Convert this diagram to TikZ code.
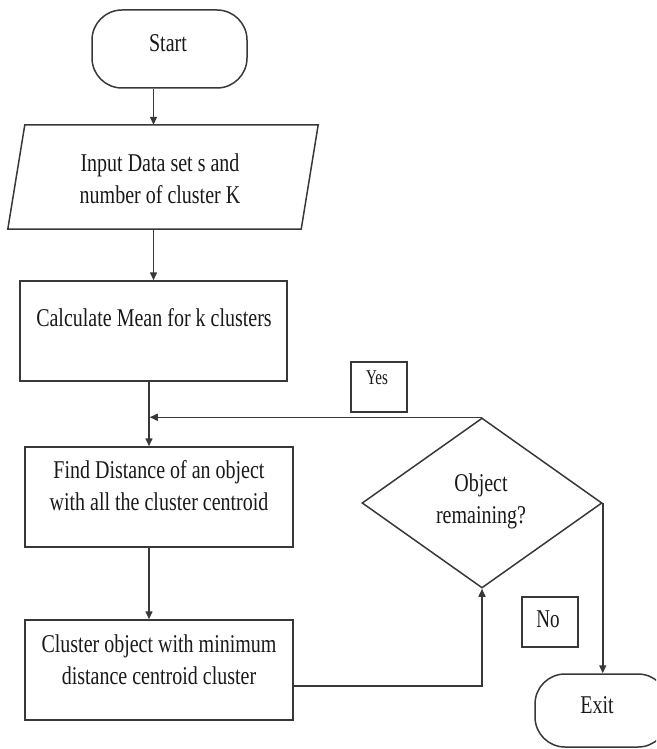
\documentclass[tikz,border=0pt]{standalone}
\usepackage{fontspec}
\setmainfont{Liberation Serif}
\usetikzlibrary{shapes.geometric,arrows.meta,calc}
% tall, slightly narrow lettering, one or more centred lines
\newcommand{\talltext}[2][1.28]{\scalebox{1}[#1]{\begin{tabular}{@{}c@{}}#2\end{tabular}}}
\begin{document}
\begin{tikzpicture}[x=1pt,y=1pt,
  line/.style={draw=black!78, line width=1.5pt},
  arr/.style={line, -{Triangle[length=8pt,width=7pt]}},
  procbox/.style={line, rectangle, inner sep=0pt, minimum width=268pt, minimum height=100pt},
  term/.style={line, rectangle, rounded corners=30pt, inner sep=0pt},
  txt/.style={text=black!90, align=center, inner sep=0pt, font=\fontsize{20}{25}\selectfont},
  tagbox/.style={line, rectangle, inner sep=0pt, minimum width=56pt, minimum height=50pt},
]
\useasboundingbox (0,0) rectangle (656,-749);
\clip (0,0) rectangle (656,-749);

% shapes
\node[term, minimum width=155pt, minimum height=78pt] (start) at (169.5,-49) {};
\node[inner sep=0pt, minimum width=276pt, minimum height=104pt] (input) at (163,-177) {};
\draw[line] (input.north west) -- ($(input.north east)+(17,0)$)
  -- (input.south east) -- ($(input.south west)+(-17,0)$) -- cycle;
\node[procbox, minimum width=267pt] (calc) at (153.5,-331) {};
\node[procbox] (find) at (159,-497) {};
\node[procbox] (clus) at (159,-670) {};
\node[line, diamond, inner sep=0pt, aspect=1.41, minimum width=240pt, minimum height=170pt] (dia) at (482,-503) {};
\node[term, minimum width=133pt, minimum height=73pt] (exit) at (601.5,-710.5) {};
\node[tagbox] (yesbox) at (379,-387) {};
\node[tagbox] (nobox) at (550,-622) {};

% texts
\node[txt] (starttxt) at (168,-45) {\talltext{Start}};
\node[txt] (inputtxt) at (160,-181) {\talltext{Input Data set s and\\number of cluster K}};
\node[txt] (calctxt) at (154,-320) {\talltext{Calculate Mean for k clusters}};
\node[txt] (findtxt) at (159,-488.5) {\talltext{Find Distance of an object\\with all the cluster centroid}};
\node[txt] (clustxt) at (159,-662) {\talltext{Cluster object with minimum\\distance centroid cluster}};
\node[txt] (diatxt) at (481,-501) {\talltext{Object\\remaining?}};
\node[txt, font=\fontsize{15}{15}\selectfont] (yestxt) at (377,-380) {\talltext[1.4]{Yes}};
\node[txt, font=\fontsize{19}{19}\selectfont] (notxt) at (548,-622) {\talltext[1.35]{No}};
\node[txt] (exittxt) at (597,-707) {\talltext{Exit}};

% connectors
\coordinate (spine) at (149,0);
\draw[arr] (start.south -| calc.north) -- (input.north -| calc.north);
\draw[arr] (input.south -| calc.north) -- (calc.north);
\draw[arr] (calc.south -| spine) -- (find.north -| spine);
\draw[arr] (dia.north) -- ($(dia.north -| spine)+(0.75,0)$);
\draw[arr] (find.south -| spine) -- (clus.north -| spine);
\draw[arr] ($(clus.east)+(0,-16)$) -| (dia.south);
\draw[arr] (dia.east) -- (dia.east |- exit.north);
\end{tikzpicture}
\end{document}
